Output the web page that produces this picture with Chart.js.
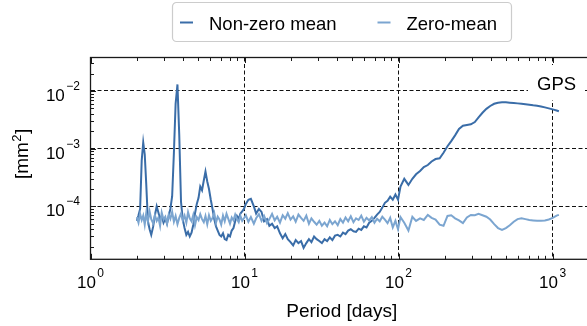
<!DOCTYPE html>
<html>
<head>
<meta charset="utf-8">
<script src="https://cdn.jsdelivr.net/npm/chart.js@4.4.1/dist/chart.umd.min.js"></script>
<style>
  html, body { margin: 0; padding: 0; background: #fff; overflow: hidden; }
  #wrap { width: 600px; height: 326px; }
</style>
</head>
<body>
<div id="wrap"><canvas id="psdChart" width="600" height="326"></canvas></div>
<script>
// period axis in days, shared by both curves
var periods = [
  2.00, 2.05, 2.10, 2.15, 2.20, 2.25, 2.30, 2.36, 2.42, 2.48,
  2.55, 2.62, 2.69, 2.76, 2.83, 2.90, 2.98, 3.06, 3.14, 3.22,
  3.30, 3.39, 3.48, 3.57, 3.67, 3.77, 3.87, 3.97, 4.08, 4.19,
  4.30, 4.41, 4.53, 4.65, 4.77, 4.90, 5.03, 5.16, 5.30, 5.44,
  5.58, 5.73, 5.88, 6.04, 6.20, 6.36, 6.53, 6.70, 6.88, 7.06,
  7.25, 7.44, 7.64, 7.84, 8.05, 8.26, 8.48, 8.70, 8.93, 9.17,
  9.41, 9.66, 9.92,
  10.2, 10.6, 11.0, 11.5, 11.9, 12.4, 12.9, 13.4, 14.0, 14.5,
  15.1, 15.7, 16.3, 17.0, 17.7, 18.4, 19.1, 19.9, 20.7, 21.5,
  22.4, 23.3, 24.2, 25.2, 26.2, 27.2, 28.3, 29.4, 30.6, 31.8,
  33.1, 34.4, 35.8, 37.2, 38.7, 40.3, 41.9, 43.6, 45.3, 47.1,
  49.0, 51.0, 53.0, 55.1, 57.3, 59.6, 62.0, 64.5, 67.1, 69.8,
  72.6, 75.5, 78.5, 81.6, 84.9, 88.3, 91.8, 95.5, 99.3,
  103, 109, 116, 123, 130, 138, 146, 155, 164, 174,
  185, 196, 208, 220, 233, 247, 262, 278, 295, 313,
  331, 351, 372, 394, 418, 443, 470, 498, 528, 560,
  593, 629, 667, 707, 749, 794, 842, 892, 946, 1003,
  1063, 1100
];

// power, in units of 1e-5 mm^2
var nonZeroMean = [
  5.6, 7.0, 9.0, 62, 128, 80, 25, 5.5, 4.0, 3.2,
  4.4, 7.0, 10, 7.8, 6.0, 6.8, 5.2, 6.1, 5.0, 6.8,
  9.0, 15, 85, 600, 1300, 170, 12, 6.0, 4.2, 3.2,
  3.6, 3.0, 3.5, 4.8, 7.5, 11, 14, 22, 19, 28,
  40, 27, 20, 13, 9.0, 6.0, 4.5, 3.8, 3.2, 3.0,
  3.4, 2.7, 2.6, 3.2, 3.0, 3.8, 4.2, 5.5, 6.8, 6.0,
  7.5, 8.2, 9.0,
  11, 13, 13.5, 10, 7.5, 9.0, 8.0, 5.5, 6.0, 4.6,
  5.0, 4.2, 4.5, 3.4, 2.8, 3.3, 2.7, 2.4, 2.1, 2.6,
  2.3, 2.5, 1.9, 2.3, 2.7, 2.4, 3.0, 2.7, 2.5, 2.3,
  2.7, 2.5, 2.9, 2.6, 3.1, 3.2, 3.0, 3.5, 3.3, 3.8,
  4.0, 3.7, 3.6, 4.1, 3.9, 4.5, 4.3, 5.2, 5.6, 6.3,
  7.2, 8.0, 9.5, 11.5, 12.5, 14.7, 13, 16, 13,
  22, 30, 23.5, 30, 36, 41, 48, 52, 60, 66,
  68, 85, 110, 135, 170, 220, 250, 258, 265, 290,
  350, 420, 490, 550, 600, 625, 635, 635, 628, 618,
  610, 600, 590, 580, 565, 555, 540, 520, 500, 480,
  460, 445
];

var zeroMean = [
  6.5, 5.2, 7.4, 5.8, 6.9, 4.8, 7.6, 5.5, 8.2, 6.0,
  5.1, 7.0, 5.6, 6.4, 4.6, 7.8, 5.9, 6.6, 5.0, 7.2,
  6.1, 8.0, 5.4, 6.8, 4.9, 6.3, 7.5, 5.7, 6.9, 5.2,
  7.9, 6.2, 5.5, 7.1, 4.7, 6.5, 5.8, 7.3, 6.0, 5.3,
  6.8, 4.9, 7.0, 5.6, 6.3, 7.7, 5.2, 6.6, 5.9, 4.8,
  6.9, 5.5, 7.4, 6.1, 5.0, 6.4, 5.7, 7.2, 6.0, 5.3,
  6.8, 5.6, 6.2,
  7.0, 5.4, 6.5, 5.0, 6.2, 7.3, 5.6, 6.8, 5.1, 6.0,
  7.4, 5.7, 6.6, 5.2, 7.0, 6.1, 7.6, 5.9, 6.7, 5.4,
  7.2, 6.3, 5.6, 6.9, 5.0, 6.2, 5.4, 4.8, 5.6, 4.6,
  5.2, 4.5, 5.8, 4.9, 5.5, 4.7, 6.0, 5.2, 6.4, 5.5,
  6.7, 5.3, 6.2, 5.8, 6.9, 5.4, 6.3, 5.7, 6.5, 5.2,
  6.1, 5.5, 6.6, 5.9, 5.1, 6.3, 4.3, 5.6, 4.0,
  6.5, 5.2, 3.8, 6.6, 5.6, 6.2, 5.8, 7.1, 6.3, 5.9,
  4.8, 4.6, 6.8, 7.0, 6.2, 5.7, 5.1, 6.4, 7.1, 7.0,
  7.4, 7.0, 6.6, 5.9, 4.9, 4.2, 3.9, 4.2, 4.7, 5.4,
  6.0, 6.2, 6.0, 5.8, 5.7, 5.6, 5.6, 5.7, 5.9, 6.3,
  6.9, 7.1
];

var seriesNames = ['Non-zero mean', 'Zero-mean'];
var xTickExponents = [0, 1, 2, 3];
var yTickExponents = [-4, -3, -2];
var xTitle = 'Period [days]';
var panelLabel = 'GPS';

var FONT = "'Liberation Sans', Arial, sans-serif";
var DARK = '#3a6da8';
var LIGHT = '#7ba5d0';

function toPoints(vals) {
  return periods.map(function (p, i) { return { x: p, y: vals[i] * 1e-5 }; });
}
function isDecade(v) {
  var e = Math.log10(v);
  return Math.abs(e - Math.round(e)) < 1e-6;
}
// 1..9 x 10^n values inside the scale range
function logTicks(min, max) {
  var out = [];
  for (var e = Math.floor(Math.log10(min)); e <= Math.ceil(Math.log10(max)); e++) {
    for (var s = 1; s < 10; s++) {
      var v = s * Math.pow(10, e);
      if (v >= min * 0.999 && v <= max * 1.001) out.push(v);
    }
  }
  return out;
}
function expText(e) { return e < 0 ? '\u2212' + Math.abs(e) : String(e); }

// "10" with a raised exponent; ax = 'x' centres under the tick, 'y' right-aligns left of the axis
function powerLabel(ctx, e, pos, ax, area) {
  ctx.font = '17px ' + FONT;
  var wBase = ctx.measureText('10').width;
  ctx.font = '12px ' + FONT;
  var wExp = ctx.measureText(expText(e)).width;
  var w = wBase + 1.5 + wExp, x0, base;
  if (ax === 'x') { x0 = pos - w / 2; base = area.bottom + 29; }
  else { x0 = area.left - 10.5 - w; base = pos + 10; }
  ctx.textAlign = 'left';
  ctx.textBaseline = 'alphabetic';
  ctx.font = '17px ' + FONT;
  ctx.fillText('10', x0, base);
  ctx.font = '12px ' + FONT;
  ctx.fillText(expText(e), x0 + wBase + 1.5, base - 11);
}

var frameAndLabels = {
  id: 'frameAndLabels',
  afterDraw: function (chart) {
    var ctx = chart.ctx, a = chart.chartArea, xs = chart.scales.x, ys = chart.scales.y;
    ctx.save();

    // panel label with white box over the grid
    ctx.fillStyle = '#fff';
    ctx.fillRect(528, 65, 56, 35);
    ctx.fillStyle = '#000';
    ctx.font = '18.5px ' + FONT;
    ctx.textAlign = 'left';
    ctx.fillText(panelLabel, 537, 89.5);

    // inward ticks
    ctx.strokeStyle = '#1a1a1a';
    ctx.lineWidth = 1;
    ctx.beginPath();
    logTicks(xs.min, xs.max).forEach(function (v) {
      var px = Math.round(xs.getPixelForValue(v)) + 0.5, len = isDecade(v) ? 5.5 : 3.5;
      ctx.moveTo(px, a.bottom); ctx.lineTo(px, a.bottom - len);
      ctx.moveTo(px, a.top); ctx.lineTo(px, a.top + len);
    });
    logTicks(ys.min, ys.max).forEach(function (v) {
      var py = Math.round(ys.getPixelForValue(v)) + 0.5, len = isDecade(v) ? 5.5 : 3.5;
      ctx.moveTo(a.left, py); ctx.lineTo(a.left + len, py);
      ctx.moveTo(a.right, py); ctx.lineTo(a.right - len, py);
    });
    ctx.stroke();

    // frame
    ctx.lineWidth = 1.3;
    ctx.strokeRect(a.left, a.top, a.right - a.left, a.bottom - a.top);

    // tick labels
    ctx.fillStyle = '#000';
    xTickExponents.forEach(function (e) {
      powerLabel(ctx, e, xs.getPixelForValue(Math.pow(10, e)), 'x', a);
    });
    yTickExponents.forEach(function (e) {
      powerLabel(ctx, e, ys.getPixelForValue(Math.pow(10, e)), 'y', a);
    });

    // x title
    ctx.font = '19px ' + FONT;
    ctx.textAlign = 'center';
    ctx.fillText(xTitle, (a.left + a.right) / 2, 317);

    // y title [mm^2], rotated
    ctx.save();
    ctx.translate(28, (a.top + a.bottom) / 2 - 4.5);
    ctx.rotate(-Math.PI / 2);
    ctx.textAlign = 'left';
    ctx.font = '19px ' + FONT;
    var w1 = ctx.measureText('[mm').width, w3 = ctx.measureText(']').width;
    ctx.font = '13px ' + FONT;
    var w2 = ctx.measureText('2').width;
    var sx = -(w1 + w2 + w3 + 1) / 2;
    ctx.font = '19px ' + FONT;
    ctx.fillText('[mm', sx, 0);
    ctx.fillText(']', sx + w1 + w2 + 1, 0);
    ctx.font = '13px ' + FONT;
    ctx.fillText('2', sx + w1 + 0.5, -7.5);
    ctx.restore();

    // legend
    var lx = 172.5, ly = 2.5, lw = 339, lh = 39;
    ctx.beginPath();
    ctx.roundRect(lx, ly, lw, lh, 4);
    ctx.fillStyle = 'rgba(255,255,255,0.85)';
    ctx.fill();
    ctx.strokeStyle = '#cccccc';
    ctx.lineWidth = 1.2;
    ctx.stroke();
    ctx.font = '18.5px ' + FONT;
    ctx.textAlign = 'left';
    var colors = [DARK, LIGHT], mx = 180;
    seriesNames.forEach(function (name, i) {
      ctx.strokeStyle = colors[i];
      ctx.lineWidth = 2;
      ctx.beginPath();
      ctx.moveTo(mx, 22.5); ctx.lineTo(mx + 13, 22.5);
      ctx.stroke();
      ctx.fillStyle = '#000';
      ctx.fillText(name, mx + 29, 29.5);
      mx += 29 + ctx.measureText(name).width + 41;
    });
    ctx.restore();
  }
};

function gridColor(c) {
  return c.tick && isDecade(c.tick.value) ? '#111111' : 'rgba(0,0,0,0)';
}

new Chart(document.getElementById('psdChart').getContext('2d'), {
  type: 'line',
  data: {
    datasets: [{
      label: seriesNames[0],
      data: toPoints(nonZeroMean),
      borderColor: DARK,
      borderWidth: 2,
      pointRadius: 0,
      tension: 0,
      fill: false,
      order: 2
    }, {
      label: seriesNames[1],
      data: toPoints(zeroMean),
      borderColor: LIGHT,
      borderWidth: 2,
      pointRadius: 0,
      tension: 0,
      fill: false,
      order: 1
    }]
  },
  options: {
    responsive: false,
    animation: false,
    devicePixelRatio: 1,
    events: [],
    layout: { padding: { left: 90.5, top: 57.5, right: 7, bottom: 66.7 } },
    plugins: { legend: { display: false }, tooltip: { enabled: false } },
    scales: {
      x: {
        type: 'logarithmic',
        min: 1,
        max: 1832,
        ticks: { display: false },
        grid: { drawTicks: false, color: gridColor, lineWidth: 1 },
        border: { display: false, dash: [4, 2.5] }
      },
      y: {
        type: 'logarithmic',
        min: 1.206e-5,
        max: 0.0381,
        ticks: { display: false },
        grid: { drawTicks: false, color: gridColor, lineWidth: 1 },
        border: { display: false, dash: [4, 2.5] }
      }
    }
  },
  plugins: [frameAndLabels]
});
</script>
</body>
</html>
